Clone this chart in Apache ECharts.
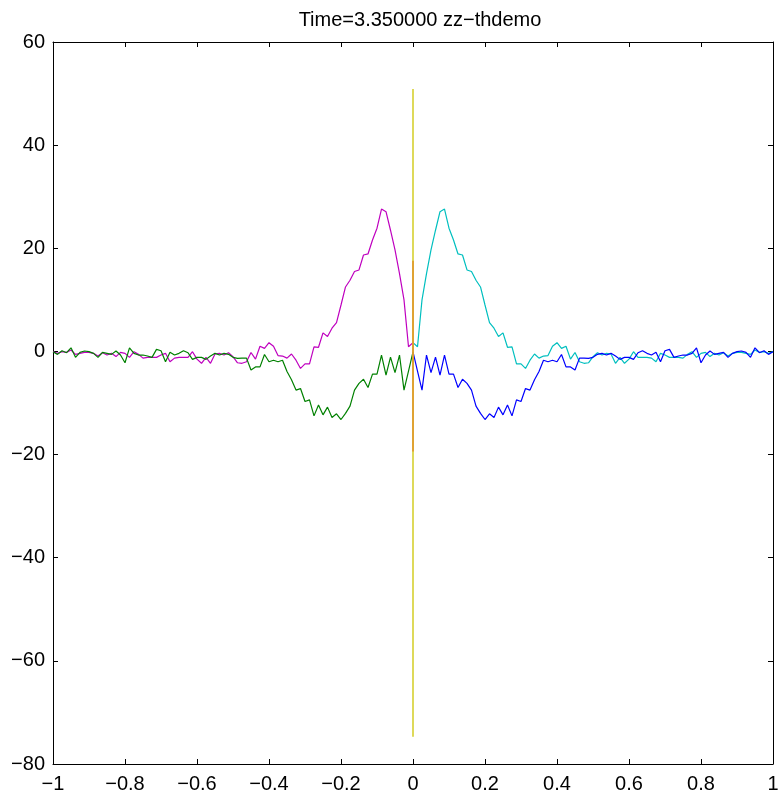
<!DOCTYPE html>
<html>
<head>
<meta charset="utf-8">
<script src="https://cdn.jsdelivr.net/npm/echarts@6/dist/echarts.min.js"></script>
<style>
html,body{margin:0;padding:0;background:#fff;}
#chart{width:779px;height:796px;}
</style>
</head>
<body>
<div id="chart"></div>
<script>
var titleText = 'Time=3.350000 zz\u2212thdemo';

var xLeft = [-1,-0.9875,-0.975,-0.9625,-0.95,-0.9375,-0.925,-0.9125,-0.9,-0.8875,-0.875,-0.8625,-0.85,-0.8375,-0.825,-0.8125,-0.8,-0.7875,-0.775,-0.7625,-0.75,-0.7375,-0.725,-0.7125,-0.7,-0.6875,-0.675,-0.6625,-0.65,-0.6375,-0.625,-0.6125,-0.6,-0.5875,-0.575,-0.5625,-0.55,-0.5375,-0.525,-0.5125,-0.5,-0.4875,-0.475,-0.4625,-0.45,-0.4375,-0.425,-0.4125,-0.4,-0.3875,-0.375,-0.3625,-0.35,-0.3375,-0.325,-0.3125,-0.3,-0.2875,-0.275,-0.2625,-0.25,-0.2375,-0.225,-0.2125,-0.2,-0.1875,-0.175,-0.1625,-0.15,-0.1375,-0.125,-0.1125,-0.1,-0.0875,-0.075,-0.0625,-0.05,-0.0375,-0.025,-0.0125,0];

var xRight = [0,0.0125,0.025,0.0375,0.05,0.0625,0.075,0.0875,0.1,0.1125,0.125,0.1375,0.15,0.1625,0.175,0.1875,0.2,0.2125,0.225,0.2375,0.25,0.2625,0.275,0.2875,0.3,0.3125,0.325,0.3375,0.35,0.3625,0.375,0.3875,0.4,0.4125,0.425,0.4375,0.45,0.4625,0.475,0.4875,0.5,0.5125,0.525,0.5375,0.55,0.5625,0.575,0.5875,0.6,0.6125,0.625,0.6375,0.65,0.6625,0.675,0.6875,0.7,0.7125,0.725,0.7375,0.75,0.7625,0.775,0.7875,0.8,0.8125,0.825,0.8375,0.85,0.8625,0.875,0.8875,0.9,0.9125,0.925,0.9375,0.95,0.9625,0.975,0.9875,1];

var magentaY = [-0.05,-0.37,-0.05,-0.18,0.28,-0.57,-0.37,-0.2,-0.18,-0.37,-0.9,-0.25,-0.7,-0.37,-1.0,-0.18,-0.37,-1.15,-0.05,-0.57,-1.3,-1.15,-1.15,-1.15,-0.7,-0.37,-2.0,-1.3,-1.15,-1.15,-1.15,-0.05,-1.5,-2.3,-1.15,-2.3,-0.5,-0.37,-0.7,-0.25,-1.0,-2.2,-2.3,-2.0,-0.2,-1.5,1.0,0.6,1.7,1.0,-0.8,-0.9,-1.3,-0.5,-1.7,-3.3,-2.4,-2.4,0.9,0.8,3.6,2.9,4.5,5.6,9.0,12.5,13.8,15.5,15.8,18.7,18.9,21.6,23.9,27.6,27.1,23.5,19.7,15.1,10.0,0.9,1.7];

var greenY = [-0.05,-0.57,0.14,-0.25,0.7,-1.15,-0.18,0.08,-0.05,-0.37,-1.15,-0.18,-0.37,-0.57,0.08,-0.7,-2.2,0.7,-0.37,-0.7,-0.7,-0.89,-1.15,0.4,0.14,-2.0,-0.18,-0.7,-0.37,0.14,-0.25,-1.54,-1.15,-1.15,-1.54,-0.89,-0.37,-0.7,-0.37,-0.57,-1.15,-1.34,-1.3,-1.3,-3.6,-3.0,-3.0,-0.6,-2.0,-1.7,-2.0,-1.7,-3.9,-5.5,-7.5,-7.2,-9.7,-9.4,-12.5,-10.4,-12.3,-10.8,-12.8,-12.1,-13.2,-12.0,-10.6,-7.5,-6.2,-5.4,-7.0,-4.4,-4.4,-0.7,-4.6,-1.1,-4.1,-0.7,-7.5,-3.8,-0.1];

var cyanY = [1.7,0.9,10.0,15.1,19.7,23.5,27.1,27.6,23.9,21.6,18.9,18.7,15.8,15.5,13.8,12.5,9.0,5.6,4.5,2.9,3.6,0.8,0.9,-2.4,-2.4,-3.3,-1.7,-0.5,-1.3,-0.9,-0.8,1.0,1.7,0.6,1.0,-1.5,-0.2,-2.0,-2.3,-2.2,-1.0,-0.25,-0.7,-0.37,-0.5,-2.3,-1.15,-2.3,-1.5,-0.05,-1.15,-1.15,-1.15,-1.3,-2.0,-0.37,-0.7,-1.15,-1.15,-1.15,-1.3,-0.57,-0.05,-1.15,-0.37,-0.18,-1.0,-0.37,-0.7,-0.25,-0.9,-0.37,-0.18,-0.2,-0.37,-0.57,0.28,-0.18,-0.05,-0.37,-0.05];

var blueY = [-0.1,-3.8,-7.5,-0.7,-4.1,-1.1,-4.6,-0.7,-4.4,-4.4,-7.0,-5.4,-6.2,-7.5,-10.6,-12.0,-13.2,-12.1,-12.8,-10.8,-12.3,-10.4,-12.5,-9.4,-9.7,-7.2,-7.5,-5.5,-3.9,-1.7,-2.0,-1.7,-2.0,-0.6,-3.0,-3.0,-3.6,-1.3,-1.3,-1.34,-1.15,-0.57,-0.37,-0.7,-0.37,-0.89,-1.54,-1.15,-1.15,-1.54,-0.25,0.14,-0.37,-0.7,-0.18,-2.0,0.14,0.4,-1.15,-0.89,-0.7,-0.7,-0.37,0.7,-2.2,-0.7,0.08,-0.57,-0.37,-0.18,-1.15,-0.37,-0.05,0.08,-0.18,-1.15,0.7,-0.25,0.14,-0.57,-0.05];

var spikeX = [0, 0];
var yellowY = [-74.7, 50.9];
var orangeY = [-19.4, 17.6];

var xTicks = [-1,-0.8,-0.6,-0.4,-0.2,0,0.2,0.4,0.6,0.8,1];
var yTicks = [-80,-60,-40,-20,0,20,40,60];

function pairs(xs, ys) {
  var out = [];
  for (var i = 0; i < xs.length && i < ys.length; i++) out.push([xs[i], ys[i]]);
  return out;
}
function fmt(v) {
  var s = String(Math.round(v * 10) / 10);
  return s.replace('-', '\u2212');
}

var FONT = 'Liberation Sans';
var chart = echarts.init(document.getElementById('chart'), null, {renderer: 'canvas'});

function xAx(pos, show) {
  return {
    type: 'value', position: pos, min: xTicks[0], max: xTicks[xTicks.length - 1], interval: 0.2,
    axisLine: {show: true, onZero: false, lineStyle: {color: '#000', width: 1}},
    axisTick: {show: true, inside: true, length: 5, lineStyle: {color: '#000'}},
    axisLabel: {show: show, color: '#000', fontFamily: FONT, fontSize: 20, margin: 10, formatter: fmt},
    splitLine: {show: false}
  };
}
function yAx(pos, show) {
  return {
    type: 'value', position: pos, min: yTicks[0], max: yTicks[yTicks.length - 1], interval: 20,
    axisLine: {show: true, onZero: false, lineStyle: {color: '#000', width: 1}},
    axisTick: {show: true, inside: true, length: 5, lineStyle: {color: '#000'}},
    axisLabel: {show: show, color: '#000', fontFamily: FONT, fontSize: 20, margin: 8, formatter: fmt},
    splitLine: {show: false}
  };
}

function lineSeries(name, data, color, z, w) {
  return {
    name: name, type: 'line', data: data, xAxisIndex: 0, yAxisIndex: 0,
    showSymbol: false, symbol: 'none', smooth: false, animation: false, z: z,
    lineStyle: {color: color, width: w}
  };
}

chart.setOption({
  animation: false,
  backgroundColor: '#fff',
  title: {
    text: titleText, left: 415, top: 5, textAlign: 'center',
    textStyle: {fontFamily: FONT, fontSize: 20, fontWeight: 'normal', color: '#000'}
  },
  grid: {left: 53, top: 42, width: 720, height: 722, containLabel: false, outerBoundsMode: 'none'},
  xAxis: [xAx('bottom', true), xAx('top', false)],
  yAxis: [yAx('left', true), yAx('right', false)],
  series: [
    lineSeries('magenta', pairs(xLeft, magentaY), '#bf00bf', 2, 1.2),
    lineSeries('green', pairs(xLeft, greenY), '#008000', 2, 1.2),
    lineSeries('cyan', pairs(xRight, cyanY), '#00bfbf', 2, 1.2),
    lineSeries('blue', pairs(xRight, blueY), '#0000ff', 2, 1.2),
    lineSeries('yellow', pairs(spikeX, yellowY), '#d6d030', 3, 1.6),
    lineSeries('orange', pairs(spikeX, orangeY), '#e0952a', 4, 1.6)
  ]
});
</script>
</body>
</html>
